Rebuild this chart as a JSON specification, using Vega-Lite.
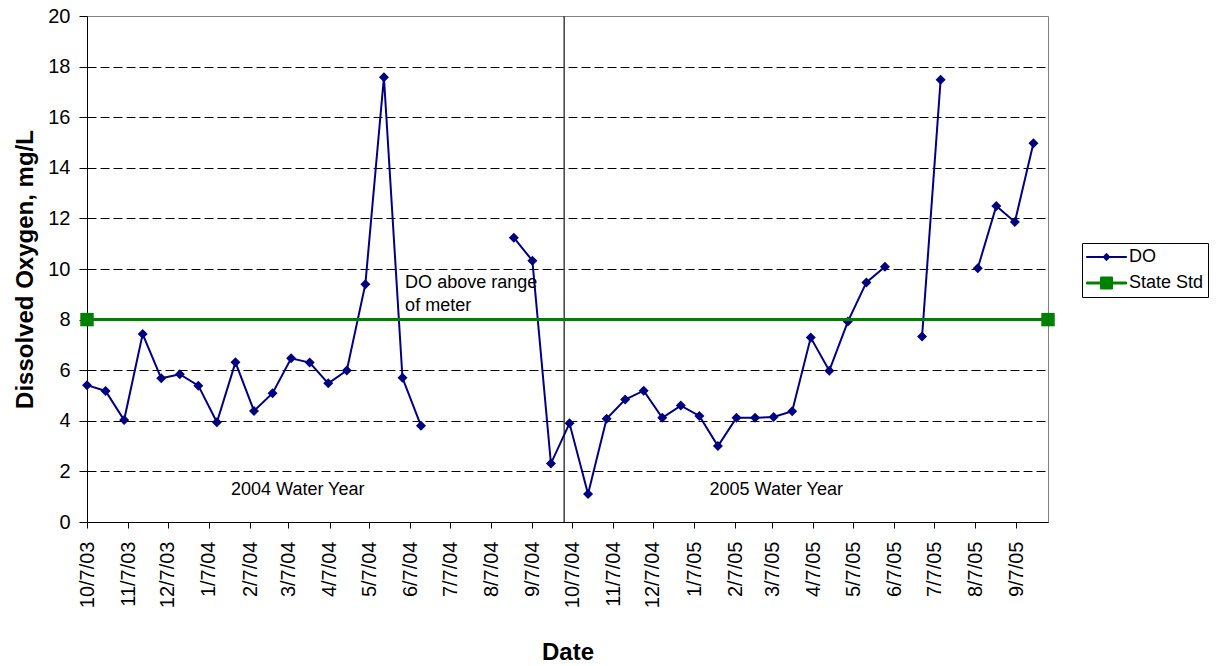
{
  "$schema": "https://vega.github.io/schema/vega-lite/v6.json",
  "width": 961,
  "height": 506,
  "autosize": {"type": "none"},
  "padding": {"left": 87, "top": 16, "right": 170, "bottom": 144},
  "background": "white",
  "config": {
    "font": "Liberation Sans",
    "view": {"stroke": "#808080", "strokeWidth": 1}
  },
  "datasets": {
    "series": [
      {"date": "2003-10-07T00:00:00", "value": 5.41, "series": "DO", "seg": 1},
      {"date": "2003-10-21T00:00:00", "value": 5.18, "series": "DO", "seg": 1},
      {"date": "2003-11-04T00:00:00", "value": 4.03, "series": "DO", "seg": 1},
      {"date": "2003-11-18T00:00:00", "value": 7.43, "series": "DO", "seg": 1},
      {"date": "2003-12-02T00:00:00", "value": 5.68, "series": "DO", "seg": 1},
      {"date": "2003-12-16T00:00:00", "value": 5.84, "series": "DO", "seg": 1},
      {"date": "2003-12-30T00:00:00", "value": 5.39, "series": "DO", "seg": 1},
      {"date": "2004-01-13T00:00:00", "value": 3.94, "series": "DO", "seg": 1},
      {"date": "2004-01-27T00:00:00", "value": 6.31, "series": "DO", "seg": 1},
      {"date": "2004-02-10T00:00:00", "value": 4.39, "series": "DO", "seg": 1},
      {"date": "2004-02-24T00:00:00", "value": 5.09, "series": "DO", "seg": 1},
      {"date": "2004-03-09T00:00:00", "value": 6.47, "series": "DO", "seg": 1},
      {"date": "2004-03-23T00:00:00", "value": 6.30, "series": "DO", "seg": 1},
      {"date": "2004-04-06T00:00:00", "value": 5.48, "series": "DO", "seg": 1},
      {"date": "2004-04-20T00:00:00", "value": 5.99, "series": "DO", "seg": 1},
      {"date": "2004-05-04T00:00:00", "value": 9.40, "series": "DO", "seg": 1},
      {"date": "2004-05-18T00:00:00", "value": 17.58, "series": "DO", "seg": 1},
      {"date": "2004-06-01T00:00:00", "value": 5.70, "series": "DO", "seg": 1},
      {"date": "2004-06-15T00:00:00", "value": 3.80, "series": "DO", "seg": 1},
      {"date": "2004-08-24T00:00:00", "value": 11.24, "series": "DO", "seg": 2},
      {"date": "2004-09-07T00:00:00", "value": 10.33, "series": "DO", "seg": 2},
      {"date": "2004-09-21T00:00:00", "value": 2.31, "series": "DO", "seg": 2},
      {"date": "2004-10-05T00:00:00", "value": 3.90, "series": "DO", "seg": 2},
      {"date": "2004-10-19T00:00:00", "value": 1.11, "series": "DO", "seg": 2},
      {"date": "2004-11-02T00:00:00", "value": 4.08, "series": "DO", "seg": 2},
      {"date": "2004-11-16T00:00:00", "value": 4.84, "series": "DO", "seg": 2},
      {"date": "2004-11-30T00:00:00", "value": 5.19, "series": "DO", "seg": 2},
      {"date": "2004-12-14T00:00:00", "value": 4.12, "series": "DO", "seg": 2},
      {"date": "2004-12-28T00:00:00", "value": 4.60, "series": "DO", "seg": 2},
      {"date": "2005-01-11T00:00:00", "value": 4.19, "series": "DO", "seg": 2},
      {"date": "2005-01-25T00:00:00", "value": 3.00, "series": "DO", "seg": 2},
      {"date": "2005-02-08T00:00:00", "value": 4.12, "series": "DO", "seg": 2},
      {"date": "2005-02-22T00:00:00", "value": 4.12, "series": "DO", "seg": 2},
      {"date": "2005-03-08T00:00:00", "value": 4.15, "series": "DO", "seg": 2},
      {"date": "2005-03-22T00:00:00", "value": 4.38, "series": "DO", "seg": 2},
      {"date": "2005-04-05T00:00:00", "value": 7.29, "series": "DO", "seg": 2},
      {"date": "2005-04-19T00:00:00", "value": 5.98, "series": "DO", "seg": 2},
      {"date": "2005-05-03T00:00:00", "value": 7.92, "series": "DO", "seg": 2},
      {"date": "2005-05-17T00:00:00", "value": 9.47, "series": "DO", "seg": 2},
      {"date": "2005-05-31T00:00:00", "value": 10.09, "series": "DO", "seg": 2},
      {"date": "2005-06-28T00:00:00", "value": 7.33, "series": "DO", "seg": 3},
      {"date": "2005-07-12T00:00:00", "value": 17.48, "series": "DO", "seg": 3},
      {"date": "2005-08-09T00:00:00", "value": 10.03, "series": "DO", "seg": 4},
      {"date": "2005-08-23T00:00:00", "value": 12.49, "series": "DO", "seg": 4},
      {"date": "2005-09-06T00:00:00", "value": 11.86, "series": "DO", "seg": 4},
      {"date": "2005-09-20T00:00:00", "value": 14.97, "series": "DO", "seg": 4},
      {"date": "2003-10-07T00:00:00", "value": 8, "series": "State Std", "seg": 5},
      {"date": "2005-10-01T00:00:00", "value": 8, "series": "State Std", "seg": 5}
    ],
    "divider": [
      {"date": "2004-10-01T00:00:00"}
    ],
    "notes": [
      {"date": "2004-06-03T00:00:00", "value": 9.43, "label": "DO above range\nof meter", "kind": "left"},
      {"date": "2004-03-14T00:00:00", "value": 1.25, "label": "2004 Water Year", "kind": "center"},
      {"date": "2005-03-10T00:00:00", "value": 1.25, "label": "2005 Water Year", "kind": "center"}
    ]
  },
  "encoding": {
    "x": {
      "field": "date",
      "type": "temporal",
      "scale": {
        "domain": [
          {"year": 2003, "month": 10, "date": 7},
          {"year": 2005, "month": 10, "date": 1}
        ]
      },
      "axis": {
        "title": "Date",
        "titleFontSize": 24,
        "titleFontWeight": "bold",
        "titleColor": "black",
        "titlePadding": 33,
        "format": "%-m/%-d/%y",
        "labelAngle": 270,
        "labelFontSize": 20,
        "labelColor": "black",
        "labelPadding": 13,
        "labelOverlap": false,
        "labelFlush": false,
        "labelBound": false,
        "tickSize": 6,
        "tickColor": "black",
        "domainColor": "black",
        "grid": false,
        "values": [
          {"year": 2003, "month": 10, "date": 7},
          {"year": 2003, "month": 11, "date": 7},
          {"year": 2003, "month": 12, "date": 7},
          {"year": 2004, "month": 1, "date": 7},
          {"year": 2004, "month": 2, "date": 7},
          {"year": 2004, "month": 3, "date": 7},
          {"year": 2004, "month": 4, "date": 7},
          {"year": 2004, "month": 5, "date": 7},
          {"year": 2004, "month": 6, "date": 7},
          {"year": 2004, "month": 7, "date": 7},
          {"year": 2004, "month": 8, "date": 7},
          {"year": 2004, "month": 9, "date": 7},
          {"year": 2004, "month": 10, "date": 7},
          {"year": 2004, "month": 11, "date": 7},
          {"year": 2004, "month": 12, "date": 7},
          {"year": 2005, "month": 1, "date": 7},
          {"year": 2005, "month": 2, "date": 7},
          {"year": 2005, "month": 3, "date": 7},
          {"year": 2005, "month": 4, "date": 7},
          {"year": 2005, "month": 5, "date": 7},
          {"year": 2005, "month": 6, "date": 7},
          {"year": 2005, "month": 7, "date": 7},
          {"year": 2005, "month": 8, "date": 7},
          {"year": 2005, "month": 9, "date": 7}
        ]
      }
    },
    "y": {
      "field": "value",
      "type": "quantitative",
      "scale": {"domain": [0, 20], "nice": false, "zero": false},
      "axis": {
        "title": "Dissolved Oxygen, mg/L",
        "titleFontSize": 24,
        "titleFontWeight": "bold",
        "titleColor": "black",
        "titlePadding": 10,
        "values": [0, 2, 4, 6, 8, 10, 12, 14, 16, 18, 20],
        "labelFontSize": 20,
        "labelColor": "black",
        "labelPadding": 9,
        "tickSize": 8,
        "tickColor": "black",
        "domainColor": "black",
        "grid": true,
        "gridColor": "black",
        "gridDash": [9, 4],
        "gridWidth": 1,
        "gridOpacity": {"condition": {"test": "datum.value === 20 || datum.value === 0", "value": 0}, "value": 1}
      }
    }
  },
  "layer": [
    {
      "data": {"name": "divider"},
      "mark": {"type": "rule", "color": "#404040", "strokeWidth": 1.5},
      "encoding": {"y": null}
    },
    {
      "data": {"name": "series"},
      "transform": [{"filter": "datum.series === 'DO'"}],
      "mark": {"type": "line", "strokeWidth": 2},
      "encoding": {
        "detail": {"field": "seg", "type": "nominal"},
        "color": {
          "field": "series",
          "type": "nominal",
          "scale": {"domain": ["DO", "State Std"], "range": ["#000080", "#008000"]},
          "legend": {
            "title": null,
            "orient": "none",
            "legendX": 995,
            "legendY": 227,
            "strokeColor": "black",
            "fillColor": "white",
            "padding": 4,
            "labelFontSize": 18,
            "labelColor": "black",
            "labelOffset": 2,
            "symbolSize": 1600,
            "symbolStrokeWidth": 1,
            "clipHeight": 20,
            "rowPadding": 6,
            "encode": {
              "symbols": {
                "update": {
                  "shape": {"signal": "datum.value === 'DO' ? 'M-1,-0.025L1,-0.025L1,0.025L-1,0.025ZM-0.175,0L0,-0.19L0.175,0L0,0.19Z' : 'M-1,-0.05L1,-0.05L1,0.05L-1,0.05ZM-0.3,-0.3L0.3,-0.3L0.3,0.3L-0.3,0.3Z'"},
                  "fill": {"signal": "datum.value === 'DO' ? '#000080' : '#008000'"},
                  "stroke": {"signal": "datum.value === 'DO' ? '#000080' : '#008000'"},
                  "size": {"value": 1600},
                  "strokeWidth": {"value": 1},
                  "opacity": {"value": 1},
                  "fillOpacity": {"value": 1},
                  "strokeOpacity": {"value": 1}
                }
              }
            }
          }
        }
      }
    },
    {
      "data": {"name": "series"},
      "transform": [{"filter": "datum.series === 'DO'"}],
      "mark": {"type": "point", "shape": "diamond", "filled": true, "size": 100, "opacity": 1},
      "encoding": {
        "color": {"field": "series", "type": "nominal"}
      }
    },
    {
      "data": {"name": "series"},
      "transform": [{"filter": "datum.series === 'State Std'"}],
      "mark": {"type": "line", "strokeWidth": 3},
      "encoding": {
        "color": {"field": "series", "type": "nominal"}
      }
    },
    {
      "data": {"name": "series"},
      "transform": [{"filter": "datum.series === 'State Std'"}],
      "mark": {"type": "point", "shape": "square", "filled": true, "size": 180, "opacity": 1},
      "encoding": {
        "color": {"field": "series", "type": "nominal"}
      }
    },
    {
      "data": {"name": "notes"},
      "transform": [{"filter": "datum.kind === 'left'"}],
      "mark": {"type": "text", "align": "left", "baseline": "middle", "fontSize": 18, "lineBreak": "\n", "lineHeight": 22.4, "color": "black"},
      "encoding": {"text": {"field": "label"}}
    },
    {
      "data": {"name": "notes"},
      "transform": [{"filter": "datum.kind === 'center'"}],
      "mark": {"type": "text", "align": "center", "baseline": "middle", "fontSize": 18, "color": "black"},
      "encoding": {"text": {"field": "label"}}
    }
  ]
}
